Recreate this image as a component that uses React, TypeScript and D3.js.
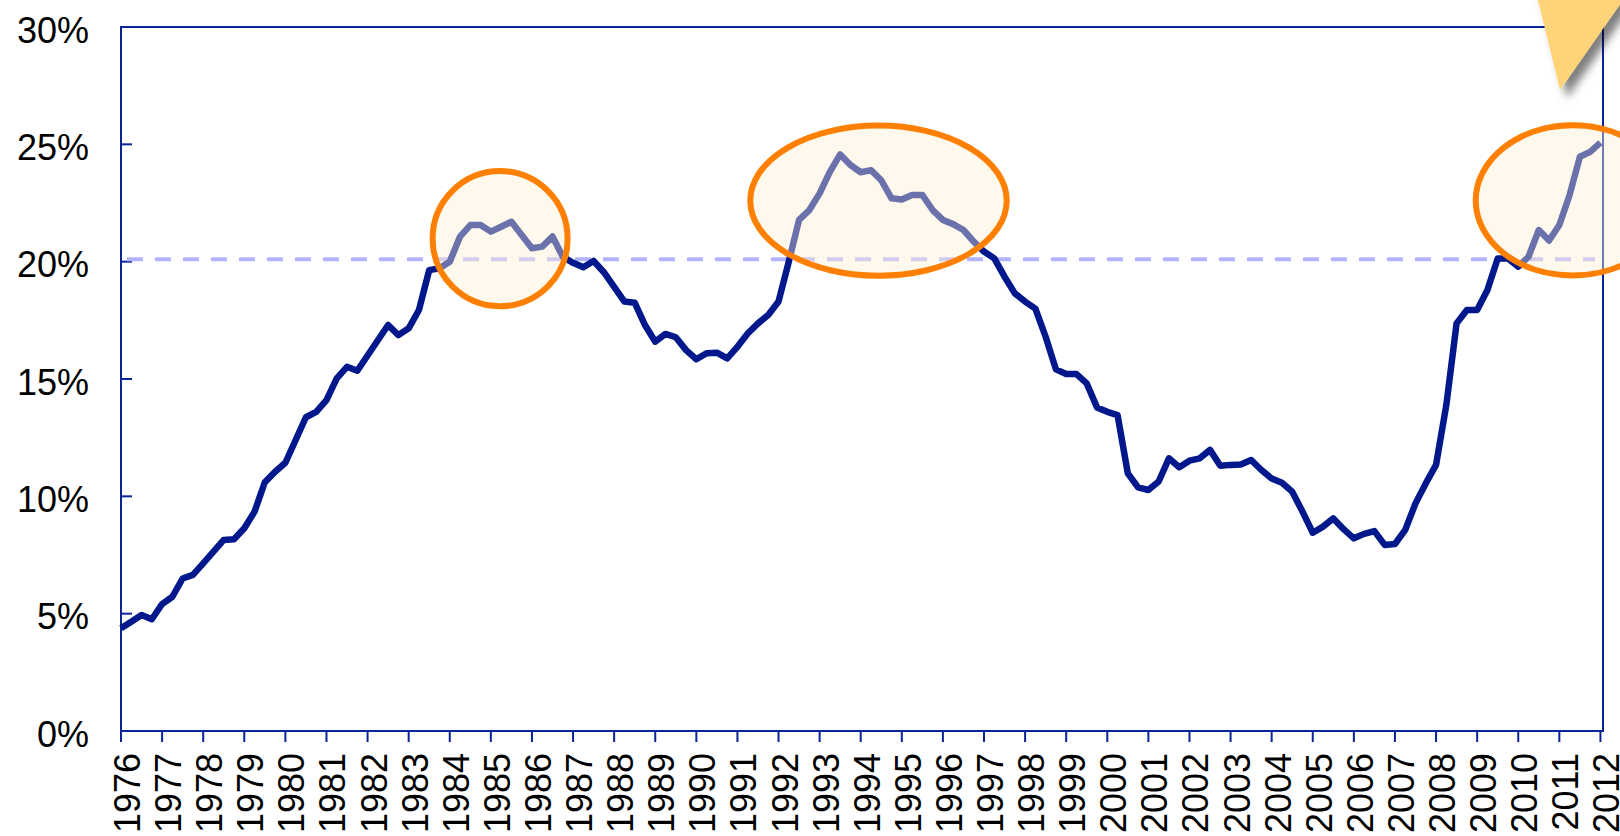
import * as d3 from "d3";

// quarterly share, 1976Q1 .. 2012Q1
const values = [
  4.38, 4.66, 4.94, 4.76, 5.41, 5.72, 6.5, 6.65, 7.14, 7.64, 8.14, 8.17,
  8.64, 9.35, 10.6, 11.05, 11.43, 12.4, 13.37, 13.6, 14.1, 15.03, 15.52, 15.35,
  16.0, 16.65, 17.3, 16.87, 17.16, 17.94, 19.64, 19.72, 20.0, 21.07, 21.56, 21.56,
  21.28, 21.49, 21.7, 21.14, 20.57, 20.64, 21.07, 20.21, 19.95, 19.76, 20.03, 19.55,
  18.93, 18.3, 18.25, 17.3, 16.59, 16.92, 16.78, 16.23, 15.84, 16.1, 16.12, 15.88,
  16.37, 16.94, 17.37, 17.73, 18.3, 20.0, 21.78, 22.2, 22.91, 23.83, 24.57, 24.12,
  23.81, 23.9, 23.47, 22.7, 22.65, 22.84, 22.84, 22.2, 21.78, 21.6, 21.35, 20.85,
  20.43, 20.14, 19.36, 18.65, 18.3, 18.0, 16.8, 15.41, 15.21, 15.21, 14.81, 13.79,
  13.6, 13.46, 10.98, 10.38, 10.27, 10.63, 11.62, 11.24, 11.52, 11.62, 11.98, 11.3,
  11.34, 11.36, 11.55, 11.12, 10.76, 10.58, 10.2, 9.35, 8.45, 8.71, 9.06, 8.6,
  8.21, 8.4, 8.52, 7.93, 7.97, 8.57, 9.7, 10.55, 11.34, 13.89, 17.37, 17.94,
  17.94, 18.79, 20.14, 20.14, 19.79, 20.21, 21.35, 20.9, 21.56, 22.84, 24.47, 24.68,
  25.07,
];

const years = d3.range(1976, 2013);
const yTicks = [0, 5, 10, 15, 20, 25, 30];
const average = 20.1;

// highlighted periods: center (quarter index, value), radii (quarters, %)
const highlights = [
  { cx: 36.9, cy: 20.98, rx: 6.57, ry: 2.88 },
  { cx: 73.73, cy: 22.6, rx: 12.48, ry: 3.2 },
  { cx: 141.3, cy: 22.61, rx: 9.44, ry: 3.2 },
];

const width = 1620;
const height = 836;
const left = 121;
const right = 1603;
const top = 27;
const bottom = 731;

const axisColor = "#0b2399";
const lineColor = "#00188c";

export default function App() {
  const x = d3.scaleLinear().domain([0, 144.25]).range([left, right]);
  const y = d3.scaleLinear().domain([0, 30]).range([bottom, top]);

  const line = d3
    .line<number>()
    .x((d, i) => x(i))
    .y((d) => y(d));

  const font = "'Liberation Sans', Arial, sans-serif";

  return (
    <svg
      width={width}
      height={height}
      style={{ position: "absolute", left: 0, top: 0, background: "#fff" }}
    >
      <defs>
        <filter id="shadow" x="-50%" y="-50%" width="200%" height="200%">
          <feDropShadow dx="7" dy="8" stdDeviation="4" floodColor="#000" floodOpacity="0.5" />
        </filter>
      </defs>

      {/* frame */}
      <rect
        x={left}
        y={top}
        width={right - left}
        height={bottom - top}
        fill="none"
        stroke={axisColor}
        strokeWidth={2}
      />

      {/* y axis */}
      <g fontFamily={font} fontSize={36} fill="#000">
        {yTicks.map((t) => (
          <g key={t}>
            {t > 0 && t < 30 && (
              <line x1={left} x2={left + 11} y1={y(t)} y2={y(t)} stroke={axisColor} strokeWidth={2} />
            )}
            <text x={89} y={y(t) + 15.5} textAnchor="end">
              {t}%
            </text>
          </g>
        ))}
      </g>

      {/* x axis */}
      <g fontFamily={font} fontSize={36} fill="#000">
        {years.map((yr, k) => {
          const px = x(k * 4);
          return (
            <g key={yr}>
              <line x1={px} x2={px} y1={bottom} y2={bottom + 11} stroke={axisColor} strokeWidth={2} />
              <text transform={`translate(${px + 19},753) rotate(-90)`} textAnchor="end">
                {yr}
              </text>
            </g>
          );
        })}
      </g>

      {/* average */}
      <line
        x1={left + 6}
        x2={right - 8}
        y1={y(average)}
        y2={y(average)}
        stroke="#b3b3ff"
        strokeWidth={4}
        strokeDasharray="16 12"
      />

      <path
        d={line(values) ?? ""}
        fill="none"
        stroke={lineColor}
        strokeWidth={6.5}
        strokeLinejoin="round"
      />

      {highlights.map((h, i) => (
        <ellipse
          key={i}
          cx={x(h.cx)}
          cy={y(h.cy)}
          rx={x(h.rx) - x(0)}
          ry={y(0) - y(h.ry)}
          fill="rgba(255,238,212,0.42)"
          stroke="#ff8000"
          strokeWidth={6}
        />
      ))}

      {/* pointer */}
      <polygon
        points="1533,-20 1637,-20 1560,90"
        fill="#ffd478"
        filter="url(#shadow)"
      />
    </svg>
  );
}
